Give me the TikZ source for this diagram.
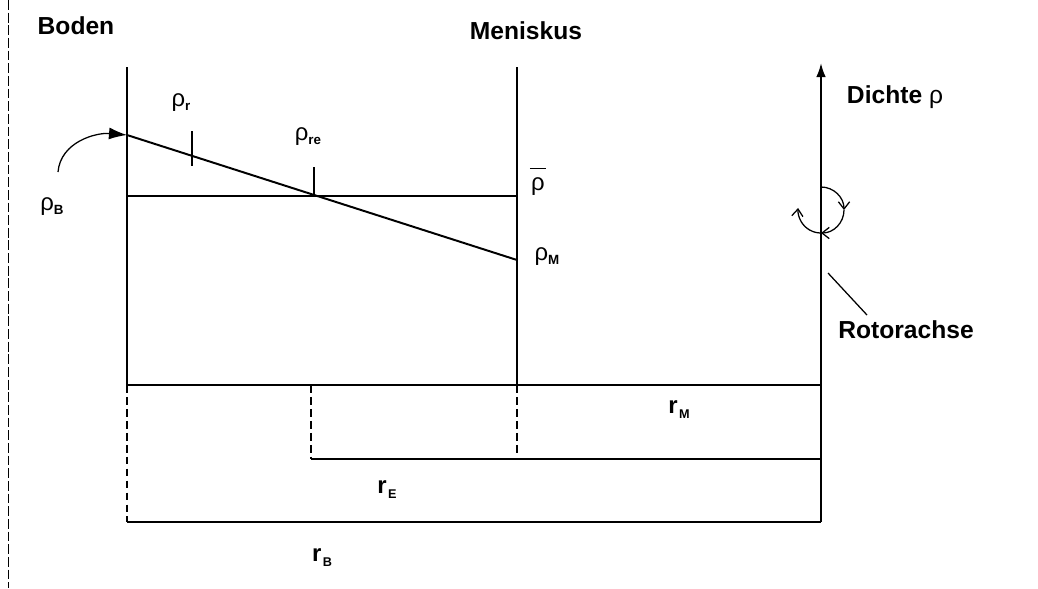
\documentclass[tikz,border=0pt]{standalone}
\usepackage{fontspec}
\setmainfont{Liberation Sans}
\usetikzlibrary{positioning,arrows.meta}

\newcommand{\rh}[1]{ρ\raisebox{-0.3ex}{\fontsize{9.5}{9.5}\selectfont\bfseries #1}}
\newcommand{\rr}[1]{\fontsize{17}{17}\selectfont\bfseries r\kern1pt\raisebox{-3.5pt}{\fontsize{9}{9}\selectfont #1}}

\begin{document}
\begin{tikzpicture}[
    x=0.025cm, y=0.025cm,
    axis/.style={line width=1.4pt},
    dash line/.style={line width=1.4pt, dash pattern=on 5.5pt off 3pt},
    title/.style={font=\fontsize{17.5}{17.5}\selectfont\bfseries, inner sep=0pt},
    sym/.style={font=\fontsize{17}{17}\selectfont, inner sep=0pt},
    turn/.style={line width=0.9pt, -{Straight Barb[length=1.8mm,width=2.8mm]}}
]
\useasboundingbox (0,0) rectangle (1038,-588);
% left border
\coordinate (lt) at (8,0);
\coordinate (lb) at (8,-588);
\draw[line width=0.7pt, dash pattern=on 7pt off 2pt] (lt) -- (lb);

% frame points
\coordinate (btop) at (127,-67);
\coordinate (bmid) at (127,-385);
\coordinate (blow) at (127,-522);
\coordinate (mtop) at (517,-67);
\coordinate (mmid) at (517,-385);
\coordinate (mlow) at (517,-455);
\coordinate (emid) at (311,-385);
\coordinate (elow) at (311,-459);
\coordinate (atop) at (821,-63);
\coordinate (amid) at (821,-459);
\coordinate (alow) at (821,-522);
\coordinate (rbase) at (821,-385);

% density profile
\coordinate (rhoB) at (127,-135);
\coordinate (rhoM) at (517,-260);
\coordinate (barL) at (127,-196);
\coordinate (barR) at (517,-196);
\coordinate (tickr1) at (192,-131);
\coordinate (tickr2) at (192,-166);
\coordinate (ticke1) at (314,-167);
\coordinate (ticke2) at (314,-196);

\draw[axis] (btop) -- (bmid);
\draw[axis] (mtop) -- (mmid);
\draw[axis, -{Latex[length=3.5mm,width=2.4mm]}] (alow) -- (atop);
\draw[axis] (bmid) -- (rbase);
\draw[axis] (elow) -- (amid);
\draw[axis] (blow) -- (alow);
\draw[dash line] (bmid) -- (blow);
\draw[dash line] (mmid) -- (mlow);
\draw[dash line] (emid) -- (elow);

\draw[axis] (rhoB) -- (rhoM);
\draw[axis] (barL) -- (barR);
\draw[axis] (tickr1) -- (tickr2);
\draw[axis] (ticke1) -- (ticke2);

% labels
\node[title] (boden) at (76,-26) {Boden};
\node[title] (menisk) at (526,-31) {Meniskus};
\node[title] (dichte) at (895,-97) {Dichte \fontseries{m}\selectfont ρ};
\node[title] (rotor) at (906,-330) {Rotorachse};

\node[sym] (lr) at (181,-103) {\rh{r}};
\node[sym] (lre) at (308,-137) {\rh{re}};
\node[sym] (lB) at (52,-207) {\rh{B}};
\node[sym] (lbar) at (538,-181) {$\overline{\kern1pt\mbox{ρ}\kern1pt\rule{0pt}{0.85em}}$};
\node[sym] (lM) at (547,-257) {\rh{M}};

\node[inner sep=0pt] (rM) at (679,-410) {\rr{M}};
\node[inner sep=0pt] (rE) at (387,-490) {\rr{E}};
\node[inner sep=0pt] (rB) at (322,-558) {\rr{B}};

% arrow to rho_B
\coordinate (bstart) at (58,-172);
\draw[line width=0.9pt, -{Latex[length=4.5mm,width=3mm]}] (bstart) to[out=85,in=175] (rhoB);

% rotation
\coordinate (rc) at (821,-210);
\draw[turn] (821,-187) arc[start angle=90, end angle=0, radius=0.575cm];
\draw[turn] (844,-210) arc[start angle=0, end angle=-90, radius=0.575cm];
\draw[turn] (821,-233) arc[start angle=-90, end angle=-185, radius=0.575cm];

% pointer to rotor axis
\coordinate (p1) at (828,-273);
\coordinate (p2) at (867,-315);
\draw[line width=0.9pt] (p1) -- (p2);
\end{tikzpicture}
\end{document}
